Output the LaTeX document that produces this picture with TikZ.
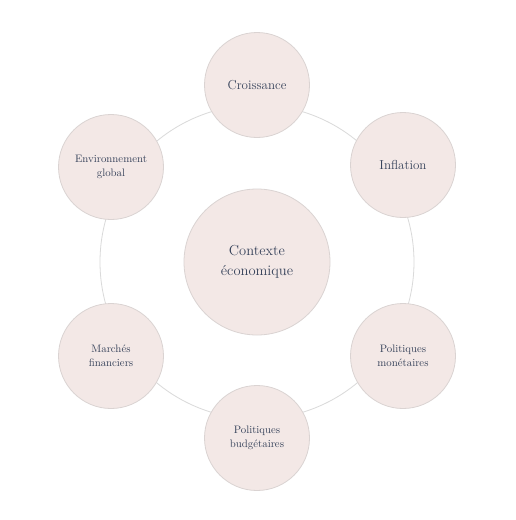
\documentclass[tikz,border=0pt]{standalone}
\usepackage{fontspec}
\usetikzlibrary{positioning}
\definecolor{fondbulle}{HTML}{F3E8E6}
\definecolor{bordbulle}{HTML}{DAD3D2}
\definecolor{encre}{HTML}{36425A}
\definecolor{anneau}{HTML}{DADADA}
\newcommand{\petit}{\fontsize{10.8}{14}\selectfont\addfontfeatures{LetterSpace=7}}

\begin{document}
\begin{tikzpicture}[x=1pt,y=-1pt,
  bulle/.style={circle, fill=fondbulle, draw=bordbulle, line width=0.8pt,
    minimum size=105pt, inner sep=0pt, align=center, text=encre},
  grosse/.style={bulle, minimum size=146pt, font=\fontsize{14.5}{20}\selectfont},
  moyenne/.style={bulle, font=\fontsize{13}{16}\selectfont},
  menue/.style={bulle, font=\petit}]
\fill[white] (0,0) rectangle (515,520);
\useasboundingbox (0,0) rectangle (515,520);
% anneau de fond
\draw[anneau, line width=0.8pt] (257,262) circle[radius=157];
% bulle centrale
\node[grosse] (contexte) at (257,262) {Contexte\\économique};
% bulles autour
\node[moyenne] (croissance) at (257,85) {Croissance};
\node[moyenne] (inflation) at (403,165) {Inflation};
\node[menue] (monetaires) at (403,356) {Politiques\\monétaires};
\node[menue] (budgetaires) at (257,438) {Politiques\\budgétaires};
\node[menue] (marches) at (111,356) {Marchés\\financiers};
\node[menue] (environnement) at (111,167) {Environnement\\global};
\end{tikzpicture}
\end{document}
